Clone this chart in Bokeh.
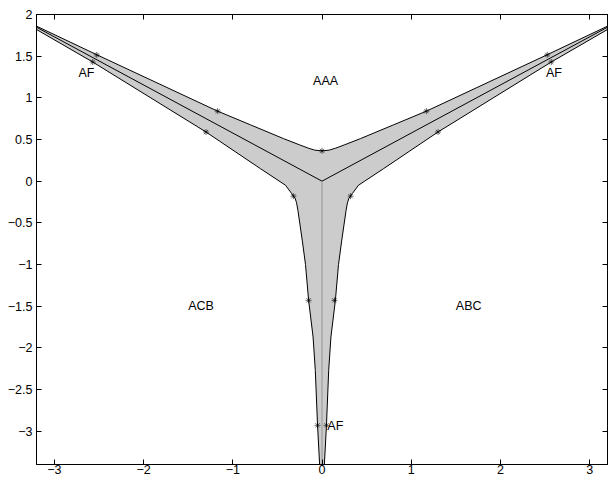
from bokeh.plotting import figure
from bokeh.models import Range1d, LinearAxis, FixedTicker
from bokeh.core.properties import value
from bokeh.embed import file_html
from bokeh.resources import INLINE

# ---- data ----
x_ticks = [-3, -2, -1, 0, 1, 2, 3]
x_tick_labels = ["\u22123", "\u22122", "\u22121", "0", "1", "2", "3"]
y_ticks = [-3, -2.5, -2, -1.5, -1, -0.5, 0, 0.5, 1, 1.5, 2]
y_tick_labels = ["\u22123", "\u22122.5", "\u22122", "\u22121.5", "\u22121", "\u22120.5",
                 "0", "0.5", "1", "1.5", "2"]

# upper boundary (left corner -> centre dip -> right corner)
upper_x = [-3.3, -2.52, -1.17, -0.80, -0.43, -0.25, -0.15, -0.08, 0.0,
           0.08, 0.15, 0.25, 0.43, 0.80, 1.17, 2.52, 3.3]
upper_y = [1.911, 1.515, 0.84, 0.675, 0.51, 0.435, 0.395, 0.372, 0.364,
           0.372, 0.395, 0.435, 0.51, 0.675, 0.84, 1.515, 1.911]

# right arm lower boundary (right corner -> bottom)
right_x = [3.3, 2.57, 1.30, 0.69, 0.41, 0.34, 0.30, 0.285, 0.27, 0.22, 0.185,
           0.15, 0.10, 0.075, 0.05, 0.026, 0.02]
right_y = [1.882, 1.43, 0.59, 0.15, -0.048, -0.148, -0.21, -0.26, -0.35, -0.72, -1.0,
           -1.43, -1.87, -2.27, -2.93, -3.41, -3.5]

# left arm lower boundary (left corner -> bottom)
left_x = [-3.3, -2.57, -1.30, -0.69, -0.41, -0.34, -0.30, -0.285, -0.27, -0.22, -0.185,
          -0.15, -0.10, -0.075, -0.05, -0.026, -0.02]
left_y = [1.882, 1.43, 0.59, 0.15, -0.048, -0.148, -0.21, -0.26, -0.35, -0.72, -1.0,
          -1.43, -1.87, -2.27, -2.93, -3.41, -3.5]

# centre lines from origin
spoke_left_x = [0.0, -3.3]
spoke_left_y = [0.0, 1.905]
spoke_right_x = [0.0, 3.3]
spoke_right_y = [0.0, 1.905]
spoke_down_x = [0.0, 0.0]
spoke_down_y = [0.0, -3.5]

# asterisk markers
mark_x = [-2.525, -2.57, -1.17, -1.30, 0.0, -0.32, -0.15, -0.05,
          2.525, 2.57, 1.17, 1.30, 0.32, 0.14, 0.05]
mark_y = [1.515, 1.43, 0.84, 0.59, 0.364, -0.18, -1.43, -2.93,
          1.515, 1.43, 0.84, 0.59, -0.18, -1.43, -2.93]

# region labels
label_text = ["AAA", "ACB", "ABC", "AF", "AF", "AF"]
label_x = [-0.1, -1.5, 1.5, -2.73, 2.51, 0.06]
label_y = [1.2, -1.5, -1.5, 1.30, 1.30, -2.94]

FONT = "Liberation Sans"
FS = "12.5px"

p = figure(width=616, height=479, x_range=Range1d(-3.2, 3.2), y_range=Range1d(-3.4, 2),
           output_backend="svg", toolbar_location=None,
           min_border_left=36, min_border_right=9, min_border_top=14, min_border_bottom=15,
           background_fill_color="white", border_fill_color="white")
p.grid.visible = False
p.outline_line_color = "black"
p.outline_line_width = 1

# gray region
patch_x = upper_x + right_x + left_x[::-1]
patch_y = upper_y + right_y + left_y[::-1]
p.patch(patch_x, patch_y, fill_color="#cccccc", line_color=None)

# boundaries
p.line(upper_x, upper_y, line_color="black", line_width=1)
p.line(right_x, right_y, line_color="black", line_width=1)
p.line(left_x, left_y, line_color="black", line_width=1)
p.line(spoke_left_x, spoke_left_y, line_color="black", line_width=1)
p.line(spoke_right_x, spoke_right_y, line_color="black", line_width=1)
p.line(spoke_down_x, spoke_down_y, line_color="#808080", line_width=0.7)

p.scatter(mark_x, mark_y, marker="asterisk", size=6, line_color="black", line_width=0.6)

p.text(label_x, label_y, text=label_text, text_font=value(FONT), text_font_size=value(FS),
       text_align="left", text_baseline="middle", text_color="black")

def style_axis(ax, ticks, labels, show_labels):
    ax.ticker = FixedTicker(ticks=ticks)
    ax.major_tick_in = 5
    ax.major_tick_out = 0
    ax.minor_tick_line_color = None
    ax.axis_line_color = "black"
    ax.major_tick_line_color = "black"
    ax.major_label_text_font = FONT
    ax.major_label_text_color = "black"
    ax.major_label_text_font_size = FS
    if show_labels:
        ax.major_label_overrides = {t: l for t, l in zip(ticks, labels)}
    else:
        ax.major_label_overrides = {t: "" for t in ticks}
        ax.major_label_standoff = 0

style_axis(p.xaxis[0], x_ticks, x_tick_labels, True)
p.xaxis[0].major_label_standoff = 0
style_axis(p.yaxis[0], y_ticks, y_tick_labels, True)
p.yaxis[0].major_label_standoff = 4

top_ax = LinearAxis()
right_ax = LinearAxis()
style_axis(top_ax, x_ticks, x_tick_labels, False)
style_axis(right_ax, y_ticks, y_tick_labels, False)
p.add_layout(top_ax, "above")
p.add_layout(right_ax, "right")

open("out.html", "w").write(file_html(p, INLINE))
